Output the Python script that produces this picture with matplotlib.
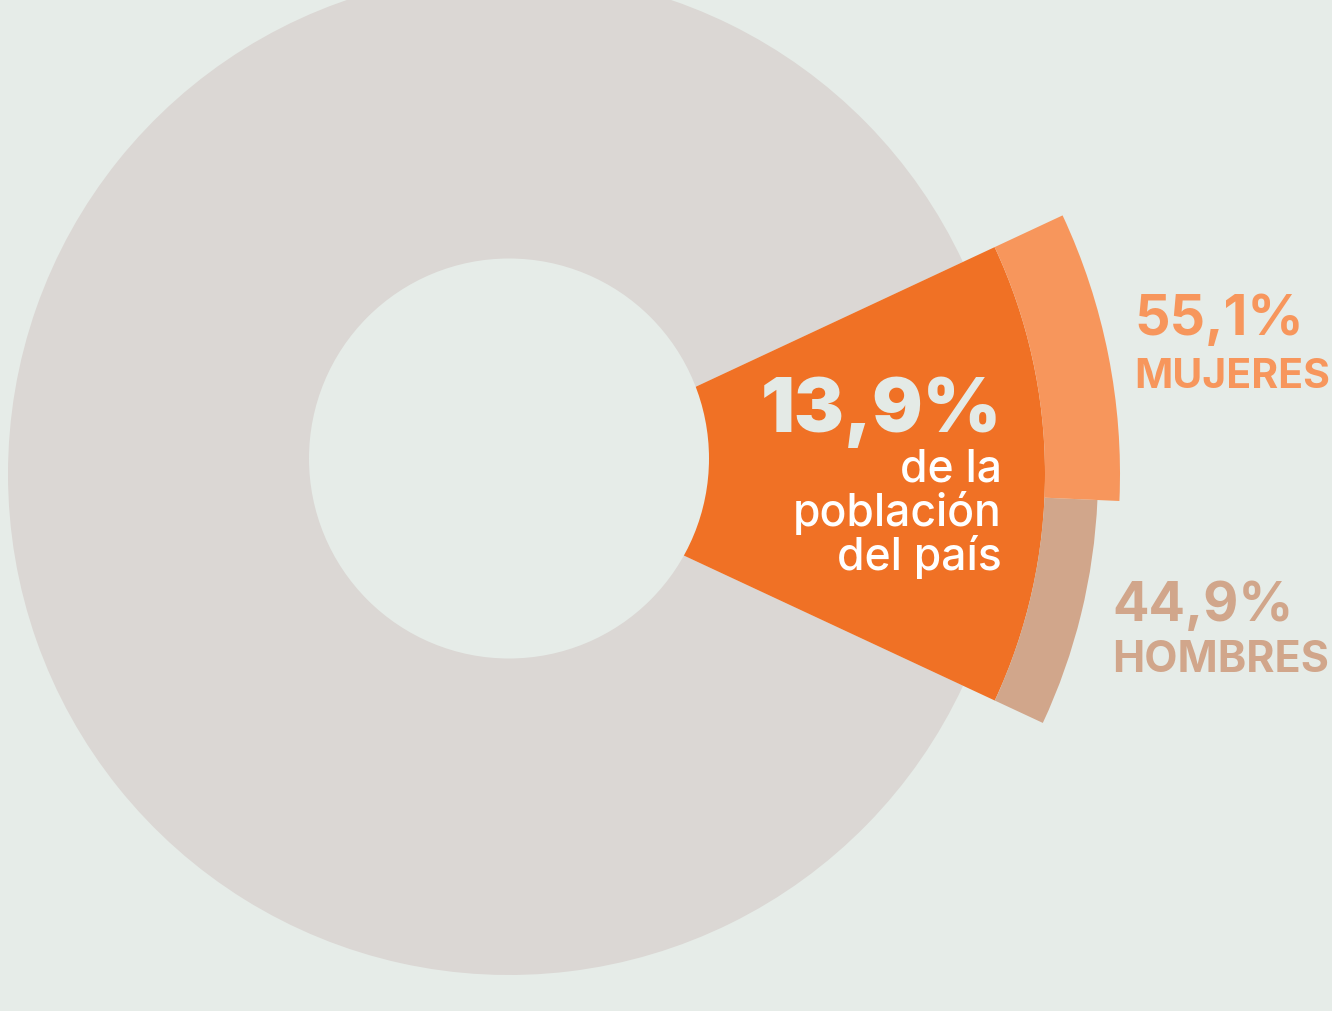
import matplotlib.pyplot as plt
from matplotlib.patches import Circle

# datos
poblacion_pct = 13.9          # % de la población del país
resto_pct = 100 - poblacion_pct
sexo = ["HOMBRES", "MUJERES"]
sexo_pct = [44.9, 55.1]       # % dentro del grupo

fondo = "#E6ECE8"
gris = "#DBD7D4"
naranja = "#F07125"
col_sexo = ["#D1A68B", "#F7965C"]

plt.rcParams["font.family"] = ["Inter", "DejaVu Sans"]

fig = plt.figure(figsize=(13.32, 10.11), dpi=100, facecolor=fondo)
ax = fig.add_axes([0, 0, 1, 1])
ax.set_facecolor(fondo)

centro = (509, 1011 - 474)
inicio = -25.0
sin_borde = dict(linewidth=0, edgecolor="none")

# anillo gris (resto de la población)
ax.pie([poblacion_pct, resto_pct], colors=["none", gris], radius=501,
       center=centro, startangle=inicio, frame=True,
       wedgeprops=dict(width=400, **sin_borde))

# porción naranja
ax.pie([poblacion_pct, resto_pct], colors=[naranja, "none"], radius=536,
       center=centro, startangle=inicio, frame=True,
       wedgeprops=dict(width=430, **sin_borde))

# anillo exterior por sexo
h = poblacion_pct * sexo_pct[0] / 100
m = poblacion_pct * sexo_pct[1] / 100
ax.pie([h, 100 - h], colors=[col_sexo[0], "none"], radius=589,
       center=centro, startangle=inicio, frame=True,
       wedgeprops=dict(width=589 - 536, **sin_borde))
ax.pie([h, m, 100 - h - m], colors=["none", col_sexo[1], "none"], radius=611,
       center=centro, startangle=inicio, frame=True,
       wedgeprops=dict(width=611 - 536, **sin_borde))

# hueco central
ax.add_patch(Circle((509, 1011 - 458.5), 200, facecolor=fondo, edgecolor="none", zorder=5))

ax.set_xlim(0, 1332)
ax.set_ylim(0, 1011)
ax.axis("off")

# textos
ax.text(1002, 1011 - 432, f"{poblacion_pct:.1f}%".replace(".", ","), ha="right", va="baseline",
        fontsize=54, fontweight="black", color="#E4EAE6", zorder=6)
for txt, yb in [("de la", 482), ("población", 526), ("del país", 570)]:
    ax.text(1002, 1011 - yb, txt, ha="right", va="baseline", fontsize=32,
            fontweight="medium", color="white", zorder=6)

ax.text(1134, 1011 - 335, f"{sexo_pct[1]:.1f}%".replace(".", ","), ha="left", va="baseline",
        fontsize=40, fontweight="bold", color=col_sexo[1])
ax.text(1134, 1011 - 388, sexo[1], ha="left", va="baseline",
        fontsize=29.5, fontweight="bold", color=col_sexo[1])
ax.text(1112, 1011 - 621, f"{sexo_pct[0]:.1f}%".replace(".", ","), ha="left", va="baseline",
        fontsize=39, fontweight="bold", color=col_sexo[0])
ax.text(1112, 1011 - 672, sexo[0], ha="left", va="baseline",
        fontsize=31, fontweight="bold", color=col_sexo[0])

plt.savefig("out.png", dpi=100, facecolor=fondo)
